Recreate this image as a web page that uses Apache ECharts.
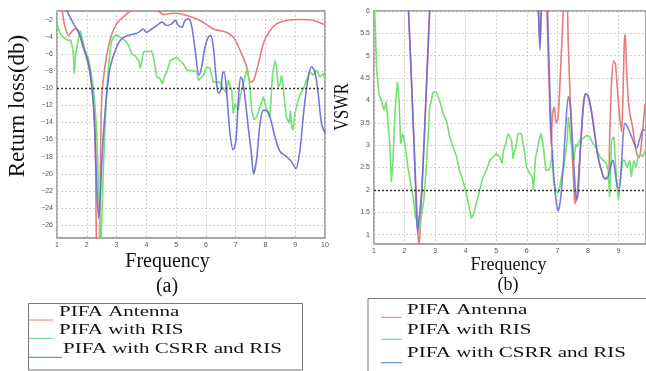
<!DOCTYPE html>
<html><head><meta charset="utf-8">
<script src="https://cdn.jsdelivr.net/npm/echarts@6/dist/echarts.min.js"></script>
<style>html,body{margin:0;background:#fff}#c{width:646px;height:371px}</style>
</head><body><div id="c"></div>
<script>
// (a) return loss in dB, [frequency, value]
const rlAntenna = [[1.0,0.3],[1.17,-1.0],[1.25,-2.6],[1.39,-3.86],[1.5,-3.4],[1.61,-3.08],[1.72,-3.4],[1.88,-5.2],[2.0,-6.6],[2.11,-8.3],[2.22,-11.4],[2.29,-17],[2.33,-29],[2.4,-31],[2.44,-24],[2.5,-11.4],[2.61,-7.5],[2.78,-4.4],[3.0,-2.5],[3.34,-1.34],[3.5,-1.0],[3.8,-0.6],[4.2,-0.6],[4.4,-1.0],[4.58,-1.42],[4.8,-1.3],[5.0,-1.26],[5.36,-1.53],[5.8,-2.1],[6.25,-3.1],[6.7,-3.5],[6.92,-4.05],[7.15,-5.6],[7.37,-7.5],[7.5,-9.3],[7.6,-9.1],[7.76,-7.2],[7.93,-4.8],[8.15,-3.3],[8.37,-2.5],[8.7,-2.1],[9.16,-2.0],[9.6,-2.1],[10,-2.6]];
const rlRis = [[1.0,-2.5],[1.11,-3.7],[1.28,-4.25],[1.39,-4.45],[1.46,-4.4],[1.54,-5.6],[1.58,-8.3],[1.63,-6.0],[1.73,-4.05],[1.78,-3.3],[1.84,-4.05],[1.92,-5.4],[1.98,-5.6],[2.04,-6.4],[2.12,-7.7],[2.2,-9.5],[2.26,-11.4],[2.33,-15],[2.4,-22],[2.47,-29],[2.52,-29],[2.56,-19.2],[2.65,-11.4],[2.73,-7.5],[2.82,-4.6],[2.9,-4.05],[3.0,-3.75],[3.12,-4.05],[3.29,-4.45],[3.4,-5.0],[3.51,-6.0],[3.62,-6.2],[3.74,-6.8],[3.8,-7.7],[3.85,-6.8],[3.9,-5.8],[4.0,-5.7],[4.18,-5.7],[4.24,-6.4],[4.35,-8.7],[4.46,-8.9],[4.54,-9.5],[4.6,-8.7],[4.69,-8.1],[4.8,-6.8],[4.91,-6.6],[5.02,-6.4],[5.13,-6.8],[5.25,-7.2],[5.36,-7.9],[5.58,-8.0],[5.69,-8.0],[5.75,-9.1],[5.8,-8.9],[5.92,-8.5],[6.03,-7.5],[6.14,-7.7],[6.25,-9.3],[6.47,-9.3],[6.59,-10.1],[6.7,-10.6],[6.75,-9.1],[6.81,-9.3],[6.87,-10.3],[6.92,-13.0],[6.98,-11.8],[7.04,-11.8],[7.09,-12.6],[7.15,-11.0],[7.23,-9.9],[7.31,-8.7],[7.39,-7.7],[7.48,-9.9],[7.54,-12.6],[7.62,-13.7],[7.7,-13.4],[7.82,-12.2],[7.93,-11.0],[8.04,-12.6],[8.15,-13.4],[8.24,-8.3],[8.32,-6.8],[8.37,-7.5],[8.43,-9.9],[8.49,-9.5],[8.54,-8.5],[8.6,-9.9],[8.65,-11.8],[8.7,-13.4],[8.8,-14.1],[8.84,-12.6],[8.88,-14.5],[8.93,-14.9],[8.99,-13.0],[9.04,-12.2],[9.1,-11.4],[9.16,-10.8],[9.27,-10.1],[9.38,-9.1],[9.44,-8.5],[9.49,-8.1],[9.6,-8.5],[9.72,-7.9],[9.83,-8.7],[9.94,-8.3],[10,-9.1]];
const rlCsrr = [[1.25,-0.3],[1.34,-1.0],[1.45,-1.8],[1.56,-2.5],[1.73,-3.5],[1.89,-5.2],[2.06,-7.15],[2.17,-9.9],[2.25,-13.4],[2.32,-20],[2.4,-25.2],[2.45,-23],[2.5,-19],[2.56,-15.3],[2.68,-10.3],[2.79,-7.5],[2.96,-5.6],[3.12,-4.45],[3.35,-3.9],[3.57,-3.7],[3.74,-3.5],[3.9,-3.1],[4.0,-3.5],[4.18,-3.1],[4.35,-2.7],[4.52,-2.3],[4.69,-2.7],[4.85,-2.5],[4.97,-2.1],[5.08,-2.7],[5.19,-2.9],[5.3,-2.1],[5.41,-1.9],[5.52,-2.7],[5.64,-5.6],[5.77,-8.5],[5.86,-7.5],[5.97,-5.2],[6.08,-4.05],[6.16,-3.85],[6.25,-5.2],[6.34,-8.7],[6.42,-10.6],[6.5,-10.3],[6.56,-8.3],[6.61,-8.1],[6.7,-10.6],[6.81,-15.3],[6.92,-17.2],[7.01,-16.1],[7.09,-11.4],[7.17,-8.7],[7.23,-9.1],[7.31,-11.0],[7.42,-14.5],[7.54,-18],[7.6,-20],[7.7,-18.4],[7.82,-14.1],[7.93,-12.6],[8.04,-12.6],[8.17,-13.6],[8.32,-15.7],[8.49,-17.4],[8.71,-18.0],[8.88,-18.6],[9.02,-19.4],[9.16,-17.2],[9.29,-12.6],[9.44,-8.7],[9.55,-7.5],[9.66,-8.1],[9.77,-10.6],[9.88,-14.1],[10,-15.3]];

// (b) VSWR, [frequency, value]; '-' marks where the curve leaves the plot
const vsAntenna = [[2.1,6.6],[2.13,6.0],[2.21,4.7],[2.3,3.2],[2.38,1.9],[2.44,1.0],[2.47,0.78],[2.5,1.0],[2.57,2.0],[2.66,3.4],[2.74,4.7],[2.82,6.0],[2.85,6.5],['-','-'],[6.33,6.4],[6.38,6.0],[6.43,5.27],[6.47,6.0],[6.5,6.5],['-','-'],[6.64,6.5],[6.68,5.5],[6.74,4.1],[6.8,3.0],[6.84,3.7],[6.9,3.85],[6.96,3.5],[7.02,3.6],[7.1,4.6],[7.18,5.8],[7.24,6.4],[7.3,6.4],[7.36,5.2],[7.46,3.26],[7.54,2.07],[7.58,1.69],[7.64,1.85],[7.71,2.51],[7.79,3.26],[7.86,4.0],[7.93,4.15],[8.0,4.11],[8.11,3.78],[8.22,3.26],[8.33,2.74],[8.44,2.44],[8.55,2.25],[8.66,2.25],[8.71,3.11],[8.77,4.38],[8.84,4.88],[8.9,4.8],[8.96,4.3],[9.03,3.7],[9.1,3.3],[9.15,4.2],[9.19,5.3],[9.22,5.48],[9.27,4.6],[9.35,3.8],[9.45,3.45],[9.6,2.8],[9.68,2.72],[9.75,3.04],[9.87,3.93]];
const vsRis = [[1.0,6.2],[1.02,6.0],[1.05,5.5],[1.08,4.75],[1.16,4.15],[1.24,4.0],[1.33,3.78],[1.4,3.97],[1.46,3.97],[1.51,3.1],[1.57,2.18],[1.62,2.66],[1.68,3.63],[1.73,4.15],[1.77,4.41],[1.82,4.0],[1.87,3.03],[1.93,3.26],[1.97,3.18],[2.04,2.89],[2.11,2.51],[2.22,2.07],[2.3,1.77],[2.36,1.36],[2.44,1.4],[2.49,1.1],[2.55,1.4],[2.63,1.77],[2.71,2.51],[2.79,3.4],[2.82,3.85],[2.88,4.0],[2.93,4.19],[3.04,4.19],[3.15,4.0],[3.26,3.7],[3.37,3.55],[3.48,3.18],[3.59,2.96],[3.7,2.74],[3.8,2.44],[3.91,2.21],[4.02,1.92],[4.11,1.62],[4.19,1.36],[4.26,1.47],[4.35,1.7],[4.46,2.0],[4.57,2.29],[4.68,2.44],[4.79,2.66],[4.9,2.74],[5.0,2.81],[5.05,2.81],[5.11,2.74],[5.19,2.59],[5.24,2.89],[5.31,3.03],[5.39,3.26],[5.5,3.11],[5.55,2.7],[5.64,2.96],[5.71,3.26],[5.82,3.26],[5.9,2.96],[5.99,2.51],[6.1,2.36],[6.18,2.29],[6.22,2.0],[6.28,2.7],[6.34,2.89],[6.4,3.11],[6.46,3.26],[6.53,3.03],[6.62,2.44],[6.7,2.44],[6.77,2.51],[6.84,2.89],[6.88,2.21],[6.95,2.0],[7.02,1.92],[7.08,2.07],[7.15,2.36],[7.21,2.51],[7.27,2.55],[7.32,3.11],[7.36,3.63],[7.4,3.4],[7.46,2.96],[7.54,2.66],[7.6,3.03],[7.65,2.96],[7.73,3.11],[7.84,3.15],[7.95,3.22],[8.06,3.18],[8.17,3.03],[8.28,2.92],[8.39,2.74],[8.5,2.66],[8.6,2.59],[8.66,2.44],[8.71,1.84],[8.77,3.11],[8.85,3.18],[8.91,3.15],[8.95,2.07],[9.0,1.77],[9.04,2.07],[9.13,2.66],[9.2,2.66],[9.28,2.51],[9.37,2.66],[9.42,2.29],[9.5,2.66],[9.57,2.51],[9.64,2.74],[9.72,2.81],[9.8,2.74],[9.87,2.89]];
const vsCsrr = [[2.1,6.6],[2.13,6.0],[2.21,4.7],[2.3,3.2],[2.37,1.9],[2.42,1.06],[2.46,1.25],[2.51,1.6],[2.57,2.1],[2.66,3.4],[2.74,4.7],[2.82,6.0],[2.85,6.5],['-','-'],[6.33,6.4],[6.38,6.0],[6.43,5.12],[6.47,6.0],[6.5,6.5],['-','-'],[6.66,6.5],[6.7,5.5],[6.76,4.1],[6.8,3.26],[6.88,2.29],[6.97,1.69],[7.02,1.53],[7.1,1.77],[7.19,2.51],[7.27,3.4],[7.36,4.08],[7.43,3.85],[7.49,3.11],[7.57,2.21],[7.62,1.77],[7.68,1.92],[7.75,2.89],[7.84,3.78],[7.93,4.15],[8.0,4.11],[8.11,3.78],[8.22,3.26],[8.33,2.74],[8.44,2.44],[8.55,2.25],[8.66,2.3],[8.75,2.55],[8.82,2.66],[8.9,2.35],[8.98,2.05],[9.02,2.05],[9.1,2.6],[9.15,3.2],[9.21,3.49],[9.3,3.4],[9.45,3.15],[9.59,2.93],[9.7,3.15],[9.8,3.35],[9.87,3.33]];

const xTicksA = [1,2,3,4,5,6,7,8,9,10];
const yTicksA = [-26,-24,-22,-20,-18,-16,-14,-12,-10,-8,-6,-4,-2];
const xTicksB = [1,2,3,4,5,6,7,8,9];
const yTicksB = [1,1.5,2,2.5,3,3.5,4,4.5,5,5.5,6];
const names = ['PIFA Antenna', 'PIFA with RIS', 'PIFA with CSRR and RIS'];

const RED = '#e87b7b', GREEN = '#72e272', BLUE = '#6767d8';
const serif = '"Liberation Serif", "Times New Roman", serif';
const tickLbl = { fontSize: 7, color: '#555', fontFamily: 'Liberation Sans' };
const split = { show: true, lineStyle: { color: '#cfcfcf', type: [2, 2], width: 1 } };

function axisX(idx, max, ticks) {
  return {
    type: 'value', gridIndex: idx, min: 1, max: max,
    axisLine: { show: false }, axisTick: { show: false, customValues: ticks },
    axisLabel: Object.assign({ customValues: ticks, margin: 4 }, tickLbl),
    splitLine: split
  };
}
function axisY(idx, min, max, ticks, fmt) {
  return {
    type: 'value', gridIndex: idx, min: min, max: max,
    axisLine: { show: false }, axisTick: { show: false, customValues: ticks },
    axisLabel: Object.assign({ customValues: ticks, margin: 4, formatter: fmt }, tickLbl),
    splitLine: split
  };
}
function line(name, data, color, xi, extra) {
  return Object.assign({
    name: name, type: 'line', xAxisIndex: xi, yAxisIndex: xi, data: data,
    showSymbol: false, symbol: 'none', connectNulls: false,
    lineStyle: { color: color, width: 1.6 }, itemStyle: { color: color }
  }, extra || {});
}
const refLine = v => ({
  silent: true, symbol: 'none', label: { show: false },
  lineStyle: { color: '#333', type: [2, 2], width: 1.4 },
  data: [{ yAxis: v }]
});

function legendBox(x0, y0, w, h, lx, lens, tx, rows) {
  const els = [{ type: 'rect', shape: { x: x0, y: y0, width: w, height: h }, style: { fill: 'none', stroke: '#777', lineWidth: 1 } }];
  const cols = ['#f07a7a', '#62d68a', '#3d85c6'];
  rows.forEach((r, i) => {
    els.push({ type: 'line', shape: { x1: lx, y1: r[1], x2: lx + lens[i], y2: r[1] }, style: { stroke: cols[i], lineWidth: 1 } });
    els.push({ type: 'text', x: tx[i], y: r[0], scaleX: 1.5,
      style: { text: names[i], font: '14px ' + serif, fill: '#111', textAlign: 'left', textVerticalAlign: 'middle', verticalAlign: 'middle' } });
  });
  return els;
}
const txt = (s, x, y, size, rot, sx) => ({
  type: 'text', x: x, y: y, rotation: rot || 0, scaleX: sx || 1,
  style: { text: s, font: size + 'px ' + serif, fill: '#111', textAlign: 'center', align: 'center', textVerticalAlign: 'middle', verticalAlign: 'middle' }
});

const chart = echarts.init(document.getElementById('c'));
chart.setOption({
  animation: false,
  grid: [
    { left: 57, right: 321, top: 11, bottom: 133, show: true, borderColor: '#8a8a8a', borderWidth: 1.5 },
    { left: 374, right: 0, top: 11, bottom: 127, show: true, borderColor: '#8a8a8a', borderWidth: 1.5 }
  ],
  xAxis: [axisX(0, 10, xTicksA), axisX(1, 9.9, xTicksB)],
  yAxis: [axisY(0, -27.5, -1, yTicksA, v => String(v).replace('-', '\u2212')), axisY(1, 0.79, 6, yTicksB)],
  series: [
    line(names[0], rlAntenna, RED, 0, { smooth: 0.3 }),
    line(names[1], rlRis, GREEN, 0, { markLine: refLine(-10) }),
    line(names[2], rlCsrr, BLUE, 0, { smooth: 0.3, lineStyle: { color: BLUE, width: 1.6, opacity: 0.9 } }),
    line(names[0], vsAntenna, RED, 1, { smooth: 0.3 }),
    line(names[1], vsRis, GREEN, 1, { markLine: refLine(2) }),
    line(names[2], vsCsrr, BLUE, 1, { smooth: 0.3, lineStyle: { color: BLUE, width: 1.6, opacity: 0.85 } })
  ],
  graphic: [
    txt('Return loss(db)', 17.5, 106, 23, Math.PI / 2),
    txt('Frequency', 167.5, 262, 20),
    txt('(a)', 167, 286.5, 20),
    txt('VSWR', 342.5, 107, 22, Math.PI / 2, 0.75),
    txt('Frequency', 508.5, 265, 18),
    txt('(b)', 508, 285, 18)
  ].concat(
    legendBox(28.5, 303.5, 274, 66.5, 29, [24, 24, 33], [59, 59, 63], [[312.7, 320], [330.7, 338.3], [349.3, 357.3]]),
    legendBox(368, 298.5, 290, 80, 381, [21, 21, 21], [407, 407, 407], [[310, 317.3], [330.7, 339.3], [353.3, 362.7]])
  )
});
</script></body></html>
